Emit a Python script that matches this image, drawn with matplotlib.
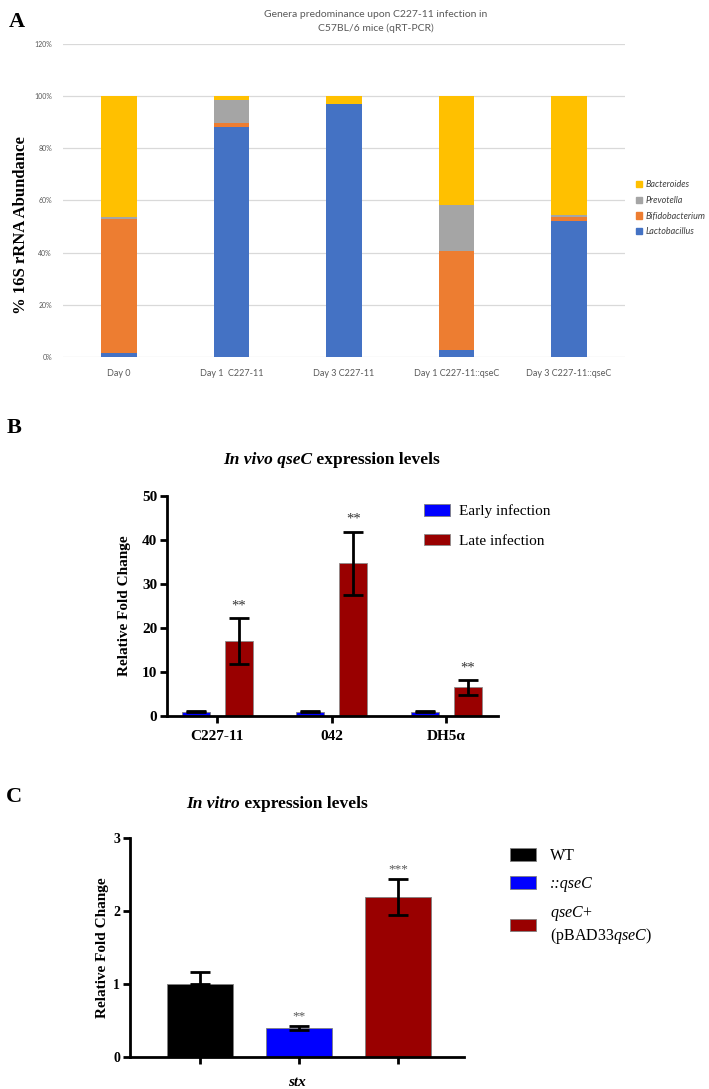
import numpy as np
import matplotlib
matplotlib.use("Agg")
import matplotlib.pyplot as plt
from matplotlib.patches import Patch

plt.rcParams['mathtext.fontset'] = 'custom'
plt.rcParams['mathtext.rm'] = 'Liberation Serif'
plt.rcParams['mathtext.it'] = 'Liberation Serif:italic'
plt.rcParams['mathtext.bf'] = 'Liberation Serif:bold'

# Panel A data
groups_a = ["Day 0", "Day 1  C227-11", "Day 3 C227-11", "Day 1 C227-11::qseC", "Day 3 C227-11::qseC"]
lacto = [1.5, 88.0, 97.0, 2.5, 52.1]
bifido = [51.3, 1.6, 0.0, 38.0, 1.5]
prevo = [1.0, 8.9, 0.0, 17.7, 0.8]
bactero = [46.2, 1.5, 3.0, 41.8, 45.6]
genera = ["Lactobacillus", "Bifidobacterium", "Prevotella", "Bacteroides"]
colors_a = ["#4472C4", "#ED7D31", "#A5A5A5", "#FFC000"]

# Panel B data
strains = ["C227-11", "042", "DH5\u03b1"]
early = [1.0, 1.0, 1.0]
early_err = [0.2, 0.2, 0.2]
late = [17.0, 34.7, 6.5]
late_err = [5.2, 7.2, 1.7]

# Panel C data
groups_c = ["WT", "::qseC", "qseC+"]
vitro = [1.0, 0.40, 2.19]
vitro_err = [0.16, 0.03, 0.25]
stars_c = ["", "**", "***"]

fig = plt.figure(figsize=(7.09, 10.89), dpi=100)

# ---------------- Panel A ----------------
axa = fig.add_axes([0.0889, 0.6722, 0.7926, 0.2874])
x = np.arange(len(groups_a))
bottom = np.zeros(len(groups_a))
for vals, col, name in zip([lacto, bifido, prevo, bactero], colors_a, genera):
    v = np.array(vals) / 100
    axa.bar(x, v, 0.316, bottom=bottom, color=col, label=name, zorder=3)
    bottom += v
axa.set_xlim(-0.5, 4.5)
axa.set_ylim(0, 1.2)
axa.set_yticks(np.arange(0, 1.21, 0.2))
axa.set_yticklabels([f"{int(round(t*100))}%" for t in np.arange(0, 1.21, 0.2)],
                    fontsize=5, color="#595959", family="Lato")
axa.set_xticks(x)
axa.set_xticklabels(groups_a, fontsize=6.5, color="#595959", family="Lato")
axa.tick_params(length=0, pad=9)
axa.tick_params(axis='y', pad=8)
axa.grid(axis='y', color="#D9D9D9", lw=0.9, zorder=0)
for s in axa.spines.values():
    s.set_visible(False)
axa.set_ylabel("% 16S rRNA Abundance", family="Liberation Serif", fontweight="bold",
               fontsize=12, labelpad=6)
axa.yaxis.set_label_coords(-0.061, 0.42)
fig.text(0.53, 0.991, "Genera predominance upon C227-11 infection in\nC57BL/6 mice (qRT-PCR)",
         ha="center", va="top", fontsize=7.5, color="#595959", family="Lato", linespacing=1.6)
fig.text(0.012, 0.989, "A", fontsize=16, fontweight="bold", family="Liberation Serif", va="top")

handles = [Patch(color=c) for c in colors_a][::-1]
fig.legend(handles, genera[::-1], loc="upper left", bbox_to_anchor=(0.885, 0.842),
           frameon=False, prop={"family": "Lato", "style": "italic", "size": 6.5},
           handlelength=0.7, handleheight=0.7, handletextpad=0.4, labelspacing=0.75,
           labelcolor="#404040")

# ---------------- Panel B ----------------
axb = fig.add_axes([0.2355, 0.3425, 0.4669, 0.2020])
xb = np.arange(len(strains))
ekw = dict(ecolor="black", elinewidth=2, capsize=7, capthick=2)
axb.bar(xb - 0.187, early, 0.245, yerr=early_err, color="#0000FF", edgecolor="#7f7f7f",
        lw=0.6, error_kw=ekw, label="Early infection")
axb.bar(xb + 0.19, late, 0.245, yerr=late_err, color="#990000", edgecolor="#8c8c8c",
        lw=0.6, error_kw=ekw, label="Late infection")
for xi, v, e in zip(xb, late, late_err):
    axb.text(xi + 0.19, v + e + 1.3, "**", ha="center", va="bottom", fontsize=10.5,
             family="Liberation Serif", color="#333333")
axb.set_xlim(-0.437, 2.454)
axb.set_ylim(0, 50)
axb.set_yticks([0, 10, 20, 30, 40, 50])
axb.set_xticks(xb)
axb.set_xticklabels(strains)
for lab in axb.get_xticklabels() + axb.get_yticklabels():
    lab.set_family("Liberation Serif")
    lab.set_fontweight("bold")
    lab.set_fontsize(11)
axb.tick_params(width=2, length=5, direction="out", pad=2)
axb.tick_params(axis="x", pad=5)
axb.spines["top"].set_visible(False)
axb.spines["right"].set_visible(False)
axb.spines["left"].set_linewidth(2)
axb.spines["bottom"].set_linewidth(2)
axb.set_ylabel("Relative Fold Change", family="Liberation Serif", fontweight="bold",
               fontsize=11, labelpad=8)
axb.legend(loc="upper left", bbox_to_anchor=(0.735, 1.025), frameon=False,
           prop={"family": "Liberation Serif", "size": 11}, handlelength=1.7,
           handleheight=0.8, handletextpad=0.6, labelspacing=1.0)
fig.text(0.44, 0.578, "In vivo qseC", ha="right", va="center", fontsize=12.5,
         family="Liberation Serif", fontweight="bold", style="italic")
fig.text(0.44, 0.578, " expression levels", ha="left", va="center", fontsize=12.5,
         family="Liberation Serif", fontweight="bold")
fig.text(0.010, 0.607, "B", fontsize=16, fontweight="bold", family="Liberation Serif", va="center")

# ---------------- Panel C ----------------
axc = fig.add_axes([0.1834, 0.0294, 0.4710, 0.2011])
xc = np.arange(len(groups_c))
cols_c = ["black", "#0000FF", "#990000"]
labels_c = ["WT", "::qseC", "$\\mathit{qseC}$+\n(pBAD33$\\mathit{qseC}$)"]
for xi, v, e, c, l in zip(xc, vitro, vitro_err, cols_c, labels_c):
    axc.bar(xi, v, 0.67, color=c, edgecolor="#7f7f7f", lw=0.6, label=l,
            yerr=[[e], [e]] if xi > 0 else [[0], [e]], error_kw=ekw)
for xi, v, e, s in zip(xc, vitro, vitro_err, stars_c):
    axc.text(xi, v + e + 0.05, s, ha="center", va="bottom", fontsize=9.5,
             family="Liberation Serif", color="#555555")
axc.set_xlim(-0.707, 2.667)
axc.set_ylim(0, 3)
axc.set_yticks([0, 1, 2, 3])
axc.set_xticks(xc)
axc.set_xticklabels([])
for lab in axc.get_yticklabels():
    lab.set_family("Liberation Serif")
    lab.set_fontweight("bold")
    lab.set_fontsize(10)
axc.tick_params(width=2, length=5, direction="out", pad=2)
axc.spines["top"].set_visible(False)
axc.spines["right"].set_visible(False)
axc.spines["left"].set_linewidth(2)
axc.spines["bottom"].set_linewidth(2)
axc.set_ylabel("Relative Fold Change", family="Liberation Serif", fontweight="bold",
               fontsize=11, labelpad=3)
axc.set_xlabel("stx", family="Liberation Serif", fontweight="bold", style="italic",
               fontsize=11, labelpad=7)
legc = axc.legend(loc="upper left", bbox_to_anchor=(1.095, 1.02), frameon=False,
                  prop={"family": "Liberation Serif", "size": 11.5}, handlelength=1.6,
                  handleheight=0.8, handletextpad=0.9, labelspacing=0.75)
legc.get_texts()[1].set_style("italic")
fig.text(0.338, 0.262, "In vitro", ha="right", va="center", fontsize=12.5,
         family="Liberation Serif", fontweight="bold", style="italic")
fig.text(0.338, 0.262, " expression levels", ha="left", va="center", fontsize=12.5,
         family="Liberation Serif", fontweight="bold")
fig.text(0.008, 0.268, "C", fontsize=16, fontweight="bold", family="Liberation Serif", va="center")

fig.savefig("out.png", dpi=100)
